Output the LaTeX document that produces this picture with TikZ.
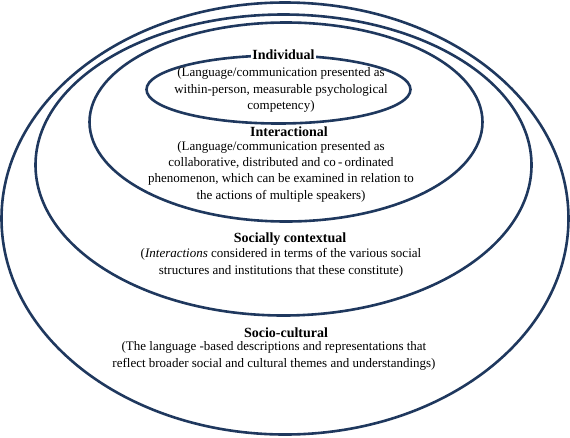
\documentclass[tikz,border=0pt]{standalone}
\usepackage{fontspec}
\setmainfont{Liberation Serif}
\definecolor{navy}{RGB}{31,56,94}
\begin{document}
\begin{tikzpicture}[x=1pt,y=-1pt,
 ring/.style={draw=navy,line width=2.6pt},
 head/.style={font=\fontsize{14}{16}\selectfont\bfseries, inner sep=1pt, fill=white},
 body/.style={font=\fontsize{13}{16.4}\selectfont, align=center, inner sep=0pt}]
\useasboundingbox (0,0) rectangle (570,437);
\draw[ring] (285,218.5) ellipse [x radius=283.5pt, y radius=216pt];
\draw[ring] (283.5,165) ellipse [x radius=248pt, y radius=150.5pt];
\draw[ring] (286,122) ellipse [x radius=196.5pt, y radius=99.5pt];
\draw[ring] (278.5,89.5) ellipse [x radius=132pt, y radius=34pt];
\node[head] (ind) at (283.5,54.5) {Individual};
\node[body] (indt) at (281,90) {(Language/communication presented as\\within-person, measurable psychological\\competency)};
\node[head] (inter) at (289,132) {Interactional};
\node[body] (intert) at (281,171.5) {(Language/communication presented as\\collaborative, distributed and co\,-\,ordinated\\phenomenon, which can be examined in relation to\\the actions of multiple speakers)};
\node[head] (soc) at (290,239) {Socially contextual};
\node[body] (soct) at (281,263) {(\textit{Interactions} considered in terms of the various social\\structures and institutions that these constitute)};
\node[head] (cult) at (286,333) {Socio-cultural};
\node[body] (cultt) at (274,356) {(The language -based descriptions and representations that\\reflect broader social and cultural themes and understandings)};
\end{tikzpicture}
\end{document}
